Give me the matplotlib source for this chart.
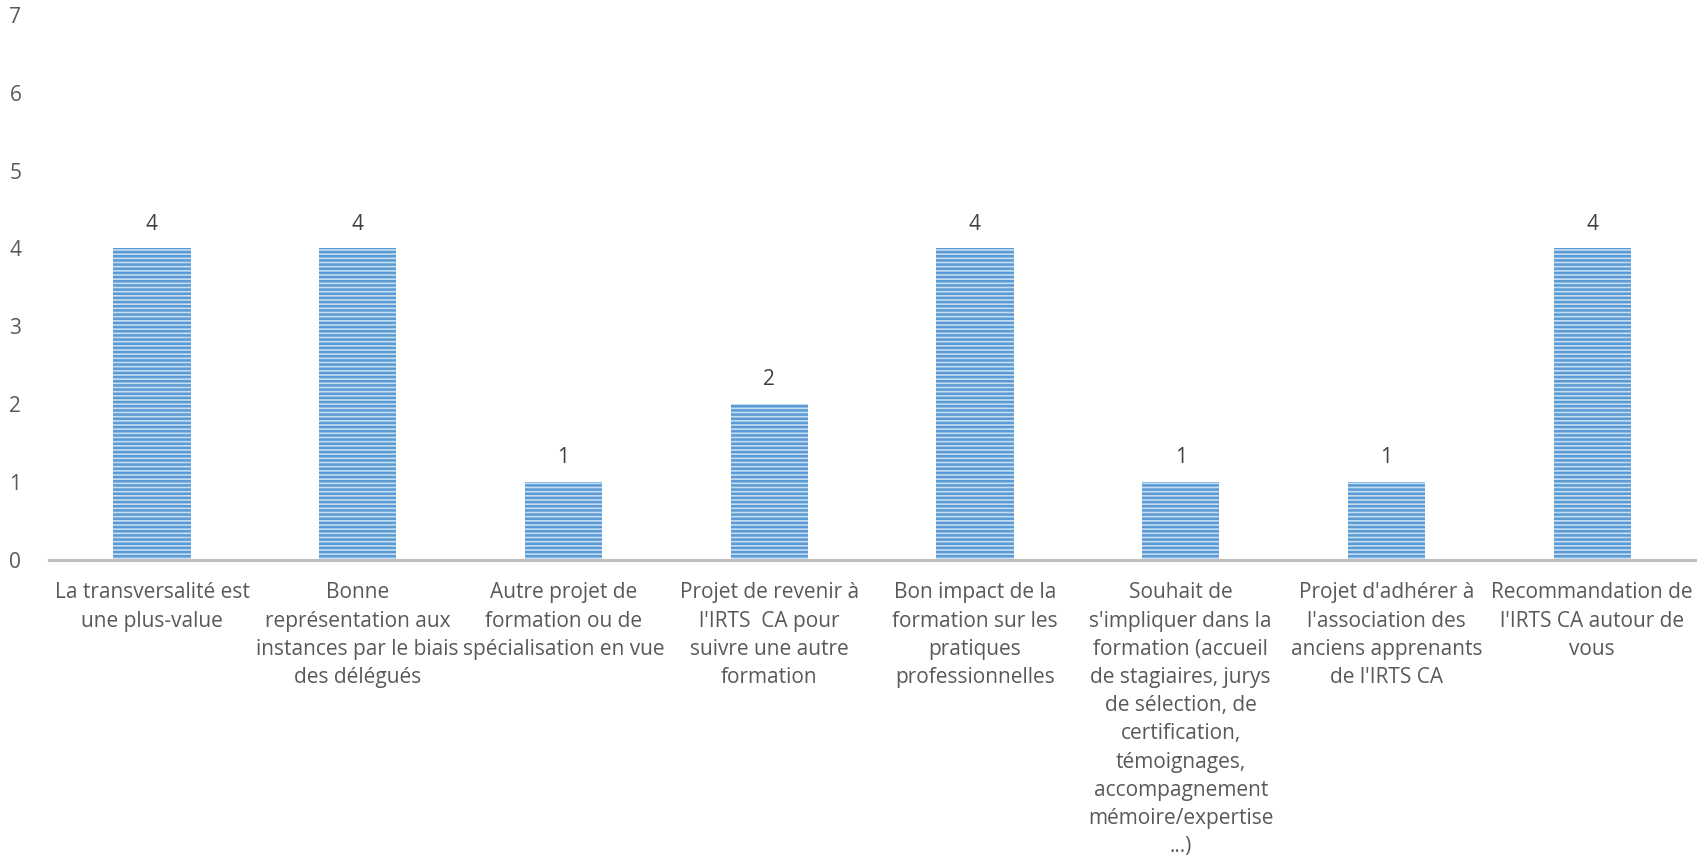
import matplotlib.pyplot as plt

categories = [
    "La transversalité est\nune plus-value",
    "Bonne\nreprésentation aux\ninstances par le biais\ndes délégués",
    "Autre projet de\nformation ou de\nspécialisation en vue",
    "Projet de revenir à\nl'IRTS  CA pour\nsuivre une autre\nformation",
    "Bon impact de la\nformation sur les\npratiques\nprofessionnelles",
    "Souhait de\ns'impliquer dans la\nformation (accueil\nde stagiaires, jurys\nde sélection, de\ncertification,\ntémoignages,\naccompagnement\nmémoire/expertise\n...)",
    "Projet d'adhérer à\nl'association des\nanciens apprenants\nde l'IRTS CA",
    "Recommandation de\nl'IRTS CA autour de\nvous",
]
values = [4, 4, 1, 2, 4, 1, 1, 4]
yticks = [0, 1, 2, 3, 4, 5, 6, 7]

plt.rcParams['font.family'] = ['Open Sans', 'DejaVu Sans']
plt.rcParams['hatch.linewidth'] = 1.8

fig = plt.figure(figsize=(17.04, 8.67), dpi=100)
ax = fig.add_axes([0.0288, 0.354, 0.966, 0.629])

x = range(len(categories))
bars = ax.bar(x, values, width=0.375, color='#c6dcf0', edgecolor='#5b9bd5',
              linewidth=0, hatch='----')

for b, v in zip(bars, values):
    ax.annotate(str(v), (b.get_x() + b.get_width() / 2, v), xytext=(0, 10),
                textcoords='offset points', ha='center', va='bottom',
                fontsize=15, color='#404040')

ax.set_xlim(-0.5, len(categories) - 0.5)
ax.set_ylim(0, 7)
ax.set_yticks(yticks)
ax.set_xticks(list(x))
ax.set_xticklabels(categories, fontsize=15, color='#595959', linespacing=1.45,
                   va='top')
ax.tick_params(axis='y', length=0, labelsize=15, labelcolor='#595959', pad=20)
ax.tick_params(axis='x', length=0, pad=16)
for s in ['top', 'right', 'left']:
    ax.spines[s].set_visible(False)
ax.spines['bottom'].set_color('#bfbfbf')
ax.spines['bottom'].set_linewidth(2.2)

fig.savefig('out.png', dpi=100)
